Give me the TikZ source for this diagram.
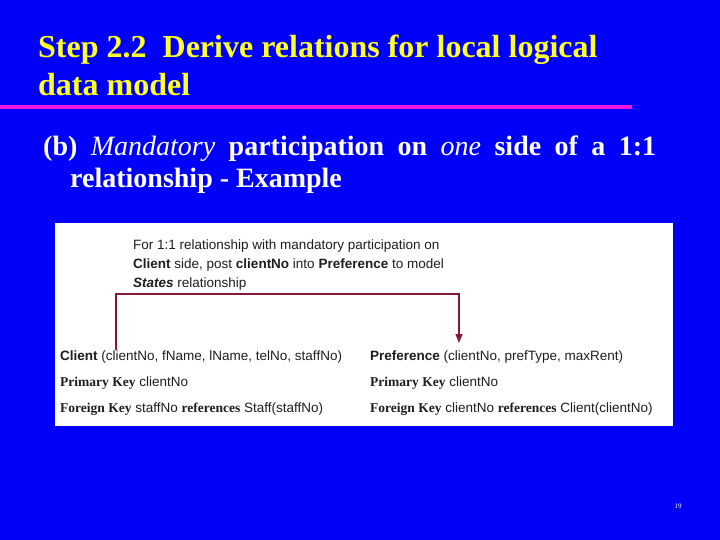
\documentclass[tikz,border=0pt]{standalone}
\usepackage{fontspec}
\setmainfont{Liberation Serif}
\setsansfont{Liberation Sans}
\usetikzlibrary{arrows.meta}
\definecolor{slideblue}{RGB}{0,0,250}
\definecolor{titleyellow}{RGB}{255,255,40}
\definecolor{rulemagenta}{RGB}{240,20,225}
\definecolor{linkred}{RGB}{135,25,55}
\definecolor{boxtext}{RGB}{30,30,30}

\begin{document}
\begin{tikzpicture}[x=1pt,y=-1pt,
	title/.style={anchor=base west, inner sep=0pt, text=titleyellow, font=\fontsize{32}{38}\selectfont\bfseries},
	subline/.style={anchor=base west, inner sep=0pt, text=white, font=\fontsize{28}{32}\selectfont\bfseries},
	noteline/.style={anchor=base west, inner sep=0pt, text=boxtext, font=\fontsize{13.5}{16}\selectfont\sffamily},
	relline/.style={anchor=base west, inner sep=0pt, text=boxtext, font=\fontsize{13.5}{16}\selectfont\sffamily},
	link/.style={draw=linkred, line width=1.1pt, -{Triangle[width=7pt,length=9pt]}}]
	% Slide background and frame
	\fill[slideblue] (0,0) rectangle (720,540);
	\useasboundingbox (0,0) rectangle (720,540);
	% Title
	\node[title] (title1) at (38,58) {Step 2.2\ \ Derive relations for local logical};
	\node[title] (title2) at (38,96) {data model};
	\fill[rulemagenta] (0,105) rectangle (632,109);
	% Subtitle
	\node[subline] (sub1) at (43,156) {\makebox[613pt][s]{(b) \textit{\mdseries Mandatory} participation on \textit{\mdseries one} side of a 1:1}};
	\node[subline] (sub2) at (70,188) {relationship - Example};
	% White panel
	\fill[white] (55,223) rectangle (673,426);
	% Note above the relations
	\newcommand\SerB[1]{{\rmfamily\bfseries #1}}
	\node[noteline] (note1) at (133,249) {For 1:1 relationship with mandatory participation on};
	\node[noteline] (note2) at (133,268) {\textbf{Client} side, post \textbf{clientNo} into \textbf{Preference} to model};
	\node[noteline] (note3) at (133,287) {\textbf{\textit{States}} relationship};
	% Relations
	\node[relline] (client) at (60,360) {\textbf{Client} (clientNo, fName, lName, telNo, staffNo)};
	\node[relline] (clientpk) at (60,386) {\SerB{Primary Key} clientNo};
	\node[relline] (clientfk) at (60,412) {\SerB{Foreign Key} staffNo \SerB{references} Staff(staffNo)};
	\node[relline] (pref) at (370,360) {\textbf{Preference} (clientNo, prefType, maxRent)};
	\node[relline] (prefpk) at (370,386) {\SerB{Primary Key} clientNo};
	\node[relline] (preffk) at (370,412) {\SerB{Foreign Key} clientNo \SerB{references} Client(clientNo)};
	% Post clientNo into Preference
	\coordinate (postfrom) at ([xshift=56pt]client.north west);
	\coordinate (postto) at ([xshift=89pt,yshift=7pt]pref.north west);
	\draw[link] (postfrom) -- ++(0,-56) -| (postto);
	% Page number
	\node[text=white, inner sep=0pt, font=\fontsize{7}{8}\selectfont] (pagenum) at (678,506) {19};
\end{tikzpicture}
\end{document}
